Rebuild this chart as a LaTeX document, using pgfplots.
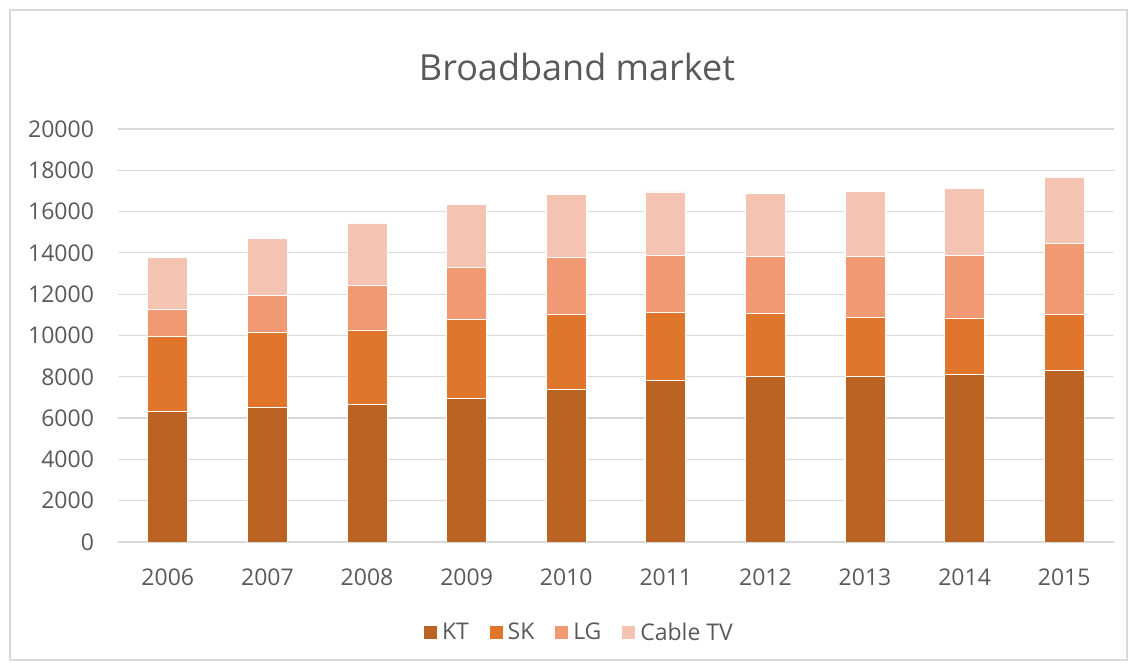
\documentclass[border=0pt]{standalone}
\usepackage{fontspec}
\setmainfont{Open Sans}
\usepackage{pgfplots}
\pgfplotsset{compat=1.18}
\definecolor{cKT}{HTML}{BA6323}
\definecolor{cSK}{HTML}{E0762B}
\definecolor{cLG}{HTML}{F09973}
\definecolor{cCT}{HTML}{F5C3B2}
\definecolor{txt}{HTML}{595959}
\definecolor{grd}{HTML}{D9D9D9}
\begin{document}
\begin{tikzpicture}
\path[use as bounding box] (0,0) rectangle (568.5pt,332pt);
\draw[grd, line width=0.6pt] (5pt,2pt) rectangle (563.5pt,327pt);
\begin{axis}[
  at={(59pt,61pt)}, anchor=south west,
  scale only axis, width=498pt, height=206.5pt,
  ybar stacked, bar width=20pt,
  xmin=-0.5, xmax=9.5, ymin=0, ymax=20000,
  xtick={0,...,9},
  xticklabels={2006,2007,2008,2009,2010,2011,2012,2013,2014,2015},
  major x tick style={draw=none},
  extra x ticks={-0.5,0.5,1.5,2.5,3.5,4.5,5.5,6.5,7.5,8.5,9.5},
  extra x tick labels={},
  extra x tick style={grid=none, tick align=outside, major tick length=4.5pt, tick style={draw=grd, line width=0.6pt}},
  ytick={0,2000,...,20000},
  ymajorgrids, grid style={draw=grd, line width=0.6pt},
  major y tick style={draw=none},
  axis line style={draw=none},
  scaled y ticks=false,
  /pgf/number format/.cd, set thousands separator={}, assume math mode=true,
  /pgfplots/.cd,
  tick label style={font=\fontsize{11.5}{13}\selectfont, text=txt},
  yticklabel style={xshift=-8.5pt},
  xticklabel style={yshift=-10pt},
  title={Broadband market},
  title style={at={(0.4608,1)}, anchor=center, yshift=25pt, font=\fontsize{18}{21}\selectfont, text=txt},
  legend style={at={(0.4639,-0.22)}, anchor=center, draw=none, legend columns=-1,
    font=\fontsize{11.5}{13}\selectfont, text=txt,
    /tikz/every even column/.append style={column sep=8pt}},
  legend image code/.code={\fill[#1] (0pt,-3.5pt) rectangle (7pt,3.5pt);},
  every axis plot/.append style={draw=white, line width=0.4pt},
]
\addplot[fill=cKT] coordinates {(0,6340) (1,6500) (2,6680) (3,6970) (4,7390) (5,7820) (6,8020) (7,8030) (8,8110) (9,8320)};
\addplot[fill=cSK] coordinates {(0,3630) (1,3660) (2,3590) (3,3810) (4,3650) (5,3290) (6,3040) (7,2840) (8,2740) (9,2700)};
\addplot[fill=cLG] coordinates {(0,1280) (1,1780) (2,2150) (3,2505) (4,2740) (5,2790) (6,2760) (7,2950) (8,3020) (9,3430)};
\addplot[fill=cCT] coordinates {(0,2520) (1,2760) (2,3030) (3,3055) (4,3030) (5,3050) (6,3070) (7,3160) (8,3240) (9,3230)};
\legend{KT,SK,LG,Cable TV}
\end{axis}
\end{tikzpicture}
\end{document}
